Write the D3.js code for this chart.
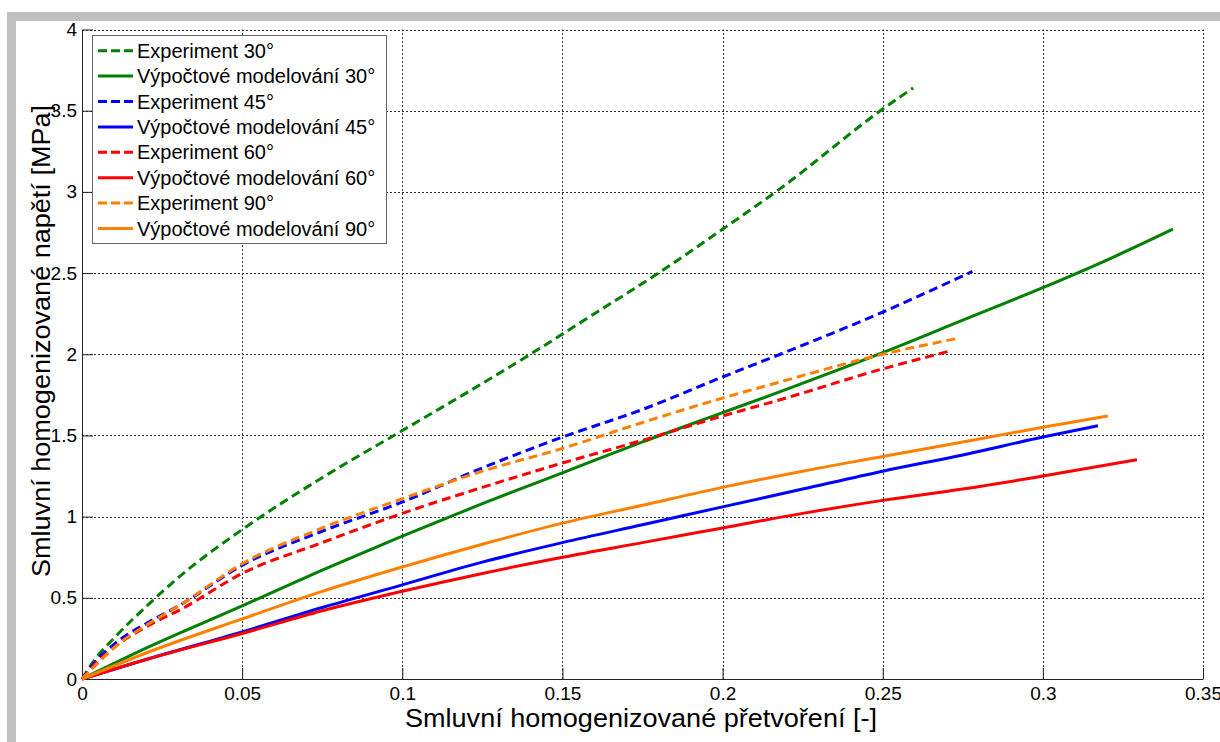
<!DOCTYPE html>
<html>
<head>
<meta charset="utf-8">
<script src="https://cdn.jsdelivr.net/npm/d3@7"></script>
<style>
  body { margin: 0; background: #fff; }
  svg { display: block; font-family: Arial, "Liberation Sans", sans-serif; }
</style>
</head>
<body>
<svg id="chart" width="1220" height="742"></svg>
<script>
// tick values
const xTicks = [0, 0.05, 0.1, 0.15, 0.2, 0.25, 0.3, 0.35];
const yTicks = [0, 0.5, 1, 1.5, 2, 2.5, 3, 3.5, 4];

// series [strain, stress]
const exp30 = [[0,0],[0.004,0.12],[0.0104,0.26],[0.0208,0.46],[0.031,0.64],[0.05,0.92],[0.075,1.24],[0.1,1.53],[0.119,1.75],[0.14,2.0],[0.16,2.25],[0.18,2.5],[0.2,2.77],[0.218,3.02],[0.25,3.51],[0.2595,3.64]];
const model30 = [[0,0],[0.02,0.19],[0.05,0.45],[0.075,0.67],[0.1,0.88],[0.125,1.08],[0.15,1.27],[0.175,1.46],[0.2,1.64],[0.218,1.77],[0.25,2.01],[0.275,2.21],[0.3,2.41],[0.32,2.58],[0.3406,2.77]];
const exp45 = [[0,0],[0.003,0.08],[0.0104,0.22],[0.0208,0.35],[0.031,0.46],[0.05,0.70],[0.075,0.91],[0.1,1.09],[0.125,1.3],[0.15,1.49],[0.175,1.66],[0.2,1.86],[0.218,2.0],[0.25,2.26],[0.278,2.51]];
const model45 = [[0,0],[0.02,0.12],[0.05,0.29],[0.075,0.44],[0.1,0.58],[0.125,0.72],[0.15,0.84],[0.175,0.95],[0.2,1.06],[0.225,1.17],[0.25,1.28],[0.275,1.38],[0.3,1.49],[0.3172,1.56]];
const exp60 = [[0,0],[0.003,0.07],[0.0104,0.2],[0.0208,0.33],[0.031,0.43],[0.05,0.65],[0.075,0.84],[0.1,1.02],[0.125,1.18],[0.15,1.33],[0.175,1.47],[0.2,1.62],[0.218,1.72],[0.25,1.91],[0.271,2.02]];
const model60 = [[0,0],[0.02,0.12],[0.05,0.28],[0.075,0.42],[0.1,0.54],[0.125,0.65],[0.15,0.75],[0.175,0.84],[0.2,0.93],[0.225,1.02],[0.25,1.10],[0.275,1.17],[0.3,1.25],[0.3294,1.35]];
const exp90 = [[0,0],[0.003,0.06],[0.0104,0.2],[0.0208,0.34],[0.031,0.46],[0.05,0.71],[0.075,0.93],[0.1,1.11],[0.125,1.28],[0.15,1.42],[0.175,1.58],[0.2,1.73],[0.218,1.83],[0.25,2.0],[0.274,2.10]];
const model90 = [[0,0],[0.02,0.16],[0.05,0.37],[0.075,0.54],[0.1,0.69],[0.125,0.83],[0.15,0.96],[0.175,1.07],[0.2,1.18],[0.225,1.28],[0.25,1.37],[0.275,1.46],[0.3,1.55],[0.3203,1.62]];

const labels = ["Experiment 30°", "Výpočtové modelování 30°", "Experiment 45°", "Výpočtové modelování 45°",
                "Experiment 60°", "Výpočtové modelování 60°", "Experiment 90°", "Výpočtové modelování 90°"];

const GREEN = "#008000", BLUE = "#0000ff", RED = "#ff0000", ORANGE = "#ff8000";
const series = [
    { name: labels[0], data: exp30, color: GREEN, dashed: true },
    { name: labels[1], data: model30, color: GREEN, dashed: false },
    { name: labels[2], data: exp45, color: BLUE, dashed: true },
    { name: labels[3], data: model45, color: BLUE, dashed: false },
    { name: labels[4], data: exp60, color: RED, dashed: true },
    { name: labels[5], data: model60, color: RED, dashed: false },
    { name: labels[6], data: exp90, color: ORANGE, dashed: true },
    { name: labels[7], data: model90, color: ORANGE, dashed: false }
];

const svg = d3.select("#chart");

// gray frame on top and left
svg.append("rect").attr("x", 7).attr("y", 12).attr("width", 1213).attr("height", 9).attr("fill", "#c0c0c0");
svg.append("rect").attr("x", 7).attr("y", 12).attr("width", 9).attr("height", 730).attr("fill", "#c0c0c0");

const x = d3.scaleLinear().domain([0, 0.35]).range([82, 1203]);
const y = d3.scaleLinear().domain([0, 4]).range([679, 29.5]);
const fmt = d => String(+d.toFixed(2));

// grid
const grid = svg.append("g").attr("class", "grid")
    .style("stroke", "#333").style("stroke-width", 1).style("stroke-dasharray", "2,2");
grid.selectAll("line.vx").data(xTicks.slice(1)).enter()
    .append("line").attr("class", "vx")
    .attr("x1", d => Math.round(x(d)) + 0.5).attr("x2", d => Math.round(x(d)) + 0.5)
    .attr("y1", y(0)).attr("y2", y(4));
grid.selectAll("line.hy").data(yTicks.slice(1)).enter()
    .append("line").attr("class", "hy")
    .attr("y1", d => Math.round(y(d)) + 0.5).attr("y2", d => Math.round(y(d)) + 0.5)
    .attr("x1", x(0)).attr("x2", x(0.35));

// axes, ticks pointing inward
const xAxis = d3.axisBottom(x).tickValues(xTicks).tickFormat(fmt).tickSizeInner(-11).tickSizeOuter(0).tickPadding(8);
const yAxis = d3.axisLeft(y).tickValues(yTicks).tickFormat(fmt).tickSizeInner(-11).tickSizeOuter(0).tickPadding(5);

const xAxisG = svg.append("g").attr("transform", "translate(0," + y(0) + ")").call(xAxis);
const yAxisG = svg.append("g").attr("transform", "translate(" + x(0) + ",0)").call(yAxis);
[xAxisG, yAxisG].forEach(g => {
    g.selectAll("path.domain, line").attr("stroke", "#222");
    g.selectAll("text").attr("fill", "#000").style("font-size", "19px").style("font-family", "Arial, 'Liberation Sans', sans-serif");
});

// curves
const line = d3.line().x(d => x(d[0])).y(d => y(d[1])).curve(d3.curveMonotoneX);
svg.append("g").attr("class", "curves")
    .selectAll("path").data(series).enter()
    .append("path")
        .attr("d", d => line(d.data))
        .attr("fill", "none")
        .attr("stroke", d => d.color)
        .attr("stroke-width", 3)
        .attr("stroke-linejoin", "round")
        .attr("stroke-dasharray", d => d.dashed ? "9,5" : null);

// legend
const legend = svg.append("g").attr("class", "legend");
legend.append("rect")
    .attr("x", 92.5).attr("y", 35.5).attr("width", 294).attr("height", 208)
    .attr("fill", "#fff").attr("stroke", "#666").attr("stroke-width", 1);
const rowH = 25.4;
const rows = legend.selectAll("g.row").data(series).enter()
    .append("g").attr("class", "row")
    .attr("transform", (d, i) => "translate(0," + (50.7 + i * rowH) + ")");
rows.append("line")
    .attr("x1", 98).attr("x2", 133).attr("y1", 0).attr("y2", 0)
    .attr("stroke", d => d.color).attr("stroke-width", 3)
    .attr("stroke-dasharray", d => d.dashed ? "9,4" : null);
rows.append("text")
    .attr("x", 137).attr("y", 7)
    .style("font-size", "20px")
    .attr("fill", "#000")
    .text(d => d.name);

// axis titles
svg.append("text")
    .attr("x", 641).attr("y", 727)
    .attr("text-anchor", "middle")
    .attr("textLength", 472).attr("lengthAdjust", "spacingAndGlyphs")
    .style("font-size", "25px")
    .text("Smluvní homogenizované přetvoření [-]");
svg.append("text")
    .attr("transform", "translate(50,341) rotate(-90)")
    .attr("text-anchor", "middle")
    .attr("textLength", 472).attr("lengthAdjust", "spacingAndGlyphs")
    .style("font-size", "25px")
    .text("Smluvní homogenizované napětí [MPa]");
</script>
</body>
</html>
